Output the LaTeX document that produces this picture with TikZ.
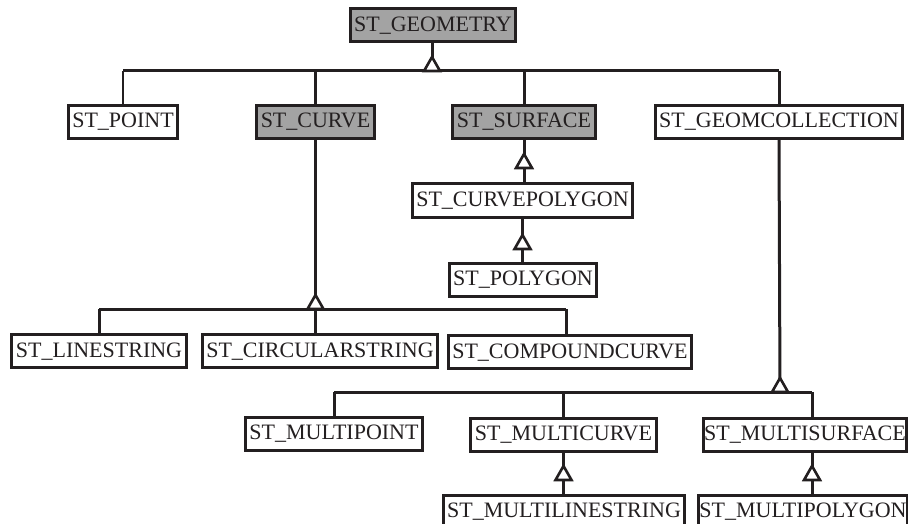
\documentclass[tikz,border=0pt]{standalone}
\usepackage{fontspec}
\setmainfont{Liberation Serif}
\definecolor{ink}{HTML}{231F20}
\definecolor{absgray}{HTML}{A3A3A3}
\begin{document}
\begin{tikzpicture}[x=1pt,y=-1pt,
  cls/.style={draw=ink, line width=3pt, fill=white, text=ink,
    font=\fontsize{22}{24}\selectfont, inner xsep=4pt, inner ysep=0pt,
    minimum height=33pt, text height=15pt, text depth=3pt},
  abstract/.style={cls, fill=absgray},
  link/.style={draw=ink, line width=3pt},
  thinlink/.style={draw=ink, line width=1.6pt},
  gen/.pic={\draw[ink, line width=2.6pt, fill=white, line join=miter]
    (-8pt,0pt) -- (0pt,14pt) -- (8pt,0pt) -- cycle;}
]
\useasboundingbox (0,0) rectangle (908,524);

% classes
\node[abstract] (geom)     at (433,25.5)  {ST\_GEOMETRY};
\node[cls]      (point)    at (123,122)   {ST\_POINT};
\node[abstract] (curve)    at (315.5,122) {ST\_CURVE};
\node[abstract] (surface)  at (524,122)   {ST\_SURFACE};
\node[cls]      (gcoll)    at (779,122)   {ST\_GEOMCOLLECTION};
\node[cls]      (cpoly)    at (522.5,200.5) {ST\_CURVEPOLYGON};
\node[cls]      (poly)     at (523,279.5) {ST\_POLYGON};
\node[cls]      (lstr)     at (99,351)    {ST\_LINESTRING};
\node[cls]      (cstr)     at (320,351)   {ST\_CIRCULARSTRING};
\node[cls]      (ccurve)   at (570,352)   {ST\_COMPOUNDCURVE};
\node[cls]      (mpoint)   at (334,433.5) {ST\_MULTIPOINT};
\node[cls]      (mcurve)   at (563.5,434.5) {ST\_MULTICURVE};
\node[cls, inner xsep=1pt] (msurf) at (805,434.5) {ST\_MULTISURFACE};
\node[cls]      (mlstr)    at (564,511.5) {ST\_MULTILINESTRING};
\node[cls, inner xsep=1pt] (mpoly) at (803,511.5) {ST\_MULTIPOLYGON};

% hierarchy buses
\coordinate (topbus)   at (432,71);
\coordinate (curvebus) at (curve.south |- 0,309);
\coordinate (gcbus)    at (780,392);
\coordinate (msstem)   at ([xshift=7pt]msurf.north);

% ST_GEOMETRY and its direct subtypes
\draw[link] (geom.south -| topbus) -- (topbus);
\draw[link] (point.north |- topbus) -- (gcoll.north |- topbus);
\draw[thinlink] (point.north) -- (point.north |- topbus);
\draw[link] (curve.north) -- (curve.north |- topbus);
\draw[link] (surface.north) -- (surface.north |- topbus);
\draw[link] (gcoll.north) -- (gcoll.north |- topbus);
\pic at (topbus) {gen};

% ST_SURFACE chain
\draw[link] (surface.south) -- (surface.south |- cpoly.north);
\pic at (surface.south |- 0,168) {gen};
\draw[link] (cpoly.south) -- (cpoly.south |- poly.north);
\pic at (cpoly.south |- 0,249) {gen};

% ST_CURVE subtypes
\draw[link] (curve.south) -- (curvebus);
\draw[link] (lstr.north |- curvebus) -- ([xshift=-4pt]ccurve.north |- curvebus);
\draw[link] (lstr.north) -- (lstr.north |- curvebus);
\draw[link] (curve.south |- cstr.north) -- (curvebus);
\draw[link] ([xshift=-4pt]ccurve.north) -- ([xshift=-4pt]ccurve.north |- curvebus);
\pic at (curvebus) {gen};

% ST_GEOMCOLLECTION subtypes
\draw[link] (gcoll.south) -- (gcbus);
\draw[link] (mpoint.north |- gcbus) -- (msstem |- gcbus);
\draw[link] (mpoint.north) -- (mpoint.north |- gcbus);
\draw[link] (mcurve.north) -- (mcurve.north |- gcbus);
\draw[link] (msstem) -- (msstem |- gcbus);
\pic at (gcbus) {gen};

% multi-collections
\draw[link] (mcurve.south) -- (mcurve.south |- mlstr.north);
\pic at (mcurve.south |- 0,480) {gen};
\draw[link] (msstem |- msurf.south) -- (msstem |- mpoly.north);
\pic at (msstem |- 0,480) {gen};
\end{tikzpicture}
\end{document}
